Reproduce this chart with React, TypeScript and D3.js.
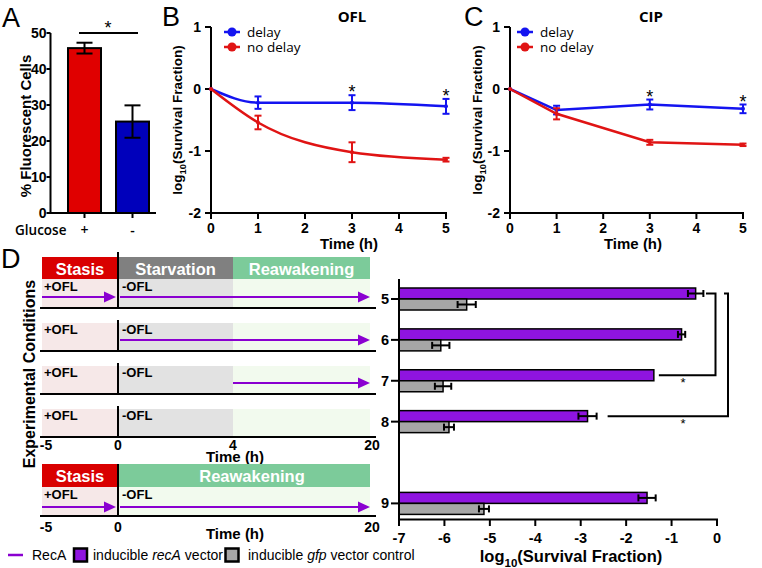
import React from "react";
import * as d3 from "d3";

// ---------- DATA ----------
const A_CATS = ["+", "-"];
const A_VALUES = [45.8, 25.4];
const A_ERRORS = [1.5, 4.5];
const A_TICKS = [0, 10, 20, 30, 40, 50];

const TIMES = [0, 1, 3, 5];
const TIME_TICKS = [0, 1, 2, 3, 4, 5];
const LOG_TICKS = [-2, -1, 0, 1];
const SERIES_NAMES = ["delay", "no delay"];
const OFL_DELAY = [0, -0.22, -0.22, -0.28];
const OFL_DELAY_ERR = [0, 0.1, 0.12, 0.12];
const OFL_NODELAY = [0, -0.54, -1.02, -1.14];
const OFL_NODELAY_ERR = [0, 0.11, 0.16, 0.03];
const CIP_DELAY = [0, -0.34, -0.25, -0.32];
const CIP_DELAY_ERR = [0, 0.07, 0.08, 0.07];
const CIP_NODELAY = [0, -0.4, -0.86, -0.9];
const CIP_NODELAY_ERR = [0, 0.09, 0.04, 0.02];
const STAR_TIMES = [3, 5];

const D_ROWS = ["5", "6", "7", "8", "9"];
const D_ROW_POS = [0, 1, 2, 3, 5];
const RECA_VALUES = [-0.47, -0.78, -1.39, -2.85, -1.54];
const RECA_ERR = [0.17, 0.08, 0, 0.2, 0.19];
const GFP_VALUES = [-5.51, -6.08, -6.03, -5.9, -5.13];
const GFP_ERR = [0.2, 0.19, 0.18, 0.11, 0.11];
const D_X_TICKS = [-7, -6, -5, -4, -3, -2, -1, 0];
const BRACKETS = [
  [0, 2],
  [0, 3],
];

const PHASES_TOP: [string, number, number][] = [
  ["Stasis", -5, 0],
  ["Starvation", 0, 4],
  ["Reawakening", 4, 20],
];
const PHASES_BOTTOM: [string, number, number][] = [
  ["Stasis", -5, 0],
  ["Reawakening", 0, 20],
];
const SCHEME_TICKS_TOP = [-5, 0, 4, 20];
const SCHEME_TICKS_BOTTOM = [-5, 0, 20];
const ROW_ARROWS_TOP: [number, number][][] = [
  [
    [-5, 0],
    [0, 20],
  ],
  [[0, 20]],
  [[4, 20]],
  [],
];
const ROW_ARROWS_BOTTOM: [number, number][][] = [
  [
    [-5, 0],
    [0, 20],
  ],
];
const TREATMENTS = ["+OFL", "-OFL"];

// ---------- STYLE ----------
const F = "'Liberation Sans', Arial, Helvetica, sans-serif";
const OS = "'Open Sans', 'Liberation Sans', sans-serif";
const BLUE = "#1414f0";
const RED = "#e01414";
const PURPLE = "#8f14e0";
const ARROW = "#8a00d0";
const GREY_BAR = "#a6a6a6";
const PHASE_DARK: Record<string, string> = {
  Stasis: "#d90000",
  Starvation: "#808080",
  Reawakening: "#7ccb9a",
};
const PHASE_LIGHT: Record<string, string> = {
  Stasis: "#f6e8e8",
  Starvation: "#e2e2e2",
  Reawakening: "#f2faee",
};

function Log10Label({ size }: { size: number }) {
  return (
    <>
      <tspan>log</tspan>
      <tspan dy={size * 0.3} fontSize={size * 0.7}>
        10
      </tspan>
      <tspan dy={-size * 0.3}>(Survival Fraction)</tspan>
    </>
  );
}

// rotated title whose visual centre (cap height) is at cx
function VTitle({ cx, cy, size, children }: { cx: number; cy: number; size: number; children: any }) {
  return (
    <text transform={`translate(${cx + size * 0.36},${cy}) rotate(-90)`} textAnchor="middle" fontSize={size} fontWeight="bold">
      {children}
    </text>
  );
}

function PanelA() {
  const x = d3.scalePoint<string>().domain(A_CATS).range([84.5, 132.5]);
  const y = d3.scaleLinear().domain([0, 50]).range([213, 33]);
  const bw = 33;
  const ax = 50.5;
  const colors = ["#e00000", "#0000bb"];
  return (
    <g>
      <text x={2} y={27} fontSize={27}>
        A
      </text>
      {A_VALUES.map((v, i) => {
        const cx = x(A_CATS[i])!;
        return (
          <g key={i}>
            <rect x={cx - bw / 2} y={y(v)} width={bw} height={y(0) - y(v)} fill={colors[i]} stroke="#000" strokeWidth={2} />
            <line x1={cx} x2={cx} y1={y(v - A_ERRORS[i])} y2={y(v + A_ERRORS[i])} stroke="#000" strokeWidth={2} />
            <line x1={cx - 8} x2={cx + 8} y1={y(v - A_ERRORS[i])} y2={y(v - A_ERRORS[i])} stroke="#000" strokeWidth={2} />
            <line x1={cx - 8} x2={cx + 8} y1={y(v + A_ERRORS[i])} y2={y(v + A_ERRORS[i])} stroke="#000" strokeWidth={2} />
            <line x1={cx} x2={cx} y1={y(0)} y2={y(0) + 5} stroke="#000" strokeWidth={2} />
            <text x={cx} y={235} textAnchor="middle" fontSize={14} fontFamily={OS} fontWeight={600}>
              {A_CATS[i]}
            </text>
          </g>
        );
      })}
      <line x1={ax} x2={ax} y1={y(50)} y2={y(0) + 1} stroke="#000" strokeWidth={2} />
      <line x1={ax - 1} x2={156} y1={y(0)} y2={y(0)} stroke="#000" strokeWidth={2} />
      {A_TICKS.map((t) => (
        <g key={t}>
          <line x1={ax - 4} x2={ax} y1={y(t)} y2={y(t)} stroke="#000" strokeWidth={2} />
          <text x={46.5} y={y(t) + 5} textAnchor="end" fontSize={14} fontWeight="bold">
            {t}
          </text>
        </g>
      ))}
      <text x={15} y={235} fontSize={13.5} fontFamily={OS} fontWeight={600}>
        Glucose
      </text>
      <line x1={79} x2={138} y1={y(50)} y2={y(50)} stroke="#000" strokeWidth={2} />
      <text x={108} y={y(50) + 1} textAnchor="middle" fontSize={18}>
        *
      </text>
      <VTitle cx={26} cy={126} size={15}>
        % Fluorescent Cells
      </VTitle>
    </g>
  );
}

function LinePanel(props: {
  xr: [number, number];
  letter: string;
  letterX: number;
  title: string;
  titleX: number;
  delay: number[];
  delayErr: number[];
  noDelay: number[];
  noDelayErr: number[];
  curve: any;
  legendX: number;
  yTitleX: number;
  xTitleX: number;
}) {
  const { xr } = props;
  const x = d3.scaleLinear().domain([0, 5]).range(xr);
  const y = d3.scaleLinear().domain([-2, 1]).range([213, 27]);
  const line = d3
    .line<number>()
    .x((_, i) => x(TIMES[i]))
    .y((d) => y(d))
    .curve(props.curve);
  const series = [
    { vals: props.delay, err: props.delayErr, color: BLUE },
    { vals: props.noDelay, err: props.noDelayErr, color: RED },
  ];
  return (
    <g>
      <text x={props.letterX} y={26} fontSize={27}>
        {props.letter}
      </text>
      <text x={props.titleX} y={22} textAnchor="middle" fontSize={15} fontWeight={700} fontFamily={OS}>
        {props.title}
      </text>
      {/* axes */}
      <line x1={xr[0]} x2={xr[0]} y1={y(1)} y2={y(-2) + 1} stroke="#000" strokeWidth={2} />
      <line x1={xr[0] - 1} x2={xr[1] + 1} y1={y(-2)} y2={y(-2)} stroke="#000" strokeWidth={2} />
      {LOG_TICKS.map((t) => (
        <g key={t}>
          <line x1={xr[0] - 6} x2={xr[0]} y1={y(t)} y2={y(t)} stroke="#000" strokeWidth={2} />
          <text x={xr[0] - 10} y={y(t) + 5} textAnchor="end" fontSize={14} fontWeight="bold">
            {t}
          </text>
        </g>
      ))}
      {TIME_TICKS.map((t) => (
        <g key={t}>
          <line x1={x(t)} x2={x(t)} y1={y(-2)} y2={y(-2) + 6} stroke="#000" strokeWidth={2} />
          <text x={x(t)} y={233} textAnchor="middle" fontSize={14} fontWeight="bold">
            {t}
          </text>
        </g>
      ))}
      <text x={props.xTitleX} y={249} textAnchor="middle" fontSize={15} fontWeight="bold">
        Time (h)
      </text>
      <VTitle cx={props.yTitleX} cy={120} size={13.5}>
        <Log10Label size={13.5} />
      </VTitle>
      {/* series */}
      {series.map((s, si) => (
        <g key={si}>
          <path d={line(s.vals)!} fill="none" stroke={s.color} strokeWidth={2.5} />
          {s.vals.map((v, i) =>
            s.err[i] > 0 ? (
              <g key={i} stroke={s.color} strokeWidth={2}>
                <line x1={x(TIMES[i])} x2={x(TIMES[i])} y1={y(v - s.err[i])} y2={y(v + s.err[i])} />
                <line x1={x(TIMES[i]) - 3.5} x2={x(TIMES[i]) + 3.5} y1={y(v - s.err[i])} y2={y(v - s.err[i])} />
                <line x1={x(TIMES[i]) - 3.5} x2={x(TIMES[i]) + 3.5} y1={y(v + s.err[i])} y2={y(v + s.err[i])} />
              </g>
            ) : null
          )}
          {s.vals.map((v, i) => (
            <circle key={"c" + i} cx={x(TIMES[i])} cy={y(v)} r={2} fill={s.color} />
          ))}
        </g>
      ))}
      {STAR_TIMES.map((t) => {
        const i = TIMES.indexOf(t);
        const top = y(props.delay[i] + props.delayErr[i]);
        return (
          <text key={t} x={x(t)} y={top + 3} textAnchor="middle" fontSize={18}>
            *
          </text>
        );
      })}
      {/* legend */}
      {SERIES_NAMES.map((n, i) => (
        <g key={n}>
          <line x1={props.legendX - 8} x2={props.legendX + 8} y1={32 + i * 15} y2={32 + i * 15} stroke={series[i].color} strokeWidth={2.5} />
          <circle cx={props.legendX} cy={32 + i * 15} r={4.5} fill={series[i].color} />
          <text x={props.legendX + 15} y={36.5 + i * 15} fontSize={13.5} fontFamily={OS}>
            {n}
          </text>
        </g>
      ))}
    </g>
  );
}

function Arrow({ x1, x2, y }: { x1: number; x2: number; y: number }) {
  return (
    <g>
      <line x1={x1} x2={x2 - 10} y1={y} y2={y} stroke={ARROW} strokeWidth={2} />
      <path d={`M${x2},${y} L${x2 - 12},${y - 5.5} L${x2 - 12},${y + 5.5} Z`} fill={ARROW} />
    </g>
  );
}

function Schematic() {
  const tx = d3.scaleLinear().domain(SCHEME_TICKS_TOP).range([42, 118, 233, 370]);
  const tx2 = d3.scaleLinear().domain(SCHEME_TICKS_BOTTOM).range([42, 118, 370]);
  const rowTop = (i: number) => 280 + i * 43;
  const rowH = 28;
  return (
    <g>
      <text x={1} y={268} fontSize={27}>
        D
      </text>
      {/* top header */}
      {PHASES_TOP.map(([n, a, b]) => (
        <g key={n}>
          <rect x={tx(a)} y={257} width={tx(b) - tx(a)} height={22} fill={PHASE_DARK[n]} />
          <text x={(tx(a) + tx(b)) / 2} y={275} textAnchor="middle" fill="#fff" fontSize={16.5} fontWeight="bold">
            {n}
          </text>
        </g>
      ))}
      {ROW_ARROWS_TOP.map((arrows, i) => {
        const top = rowTop(i);
        return (
          <g key={i}>
            {PHASES_TOP.map(([n, a, b]) => (
              <rect key={n} x={tx(a)} y={i === 0 ? 279 : top} width={tx(b) - tx(a)} height={top + rowH - (i === 0 ? 279 : top)} fill={PHASE_LIGHT[n]} />
            ))}
            <line x1={40} x2={376} y1={top + rowH} y2={top + rowH} stroke="#000" strokeWidth={2} />
            <line x1={tx(0)} x2={tx(0)} y1={i === 0 ? 252 : top - 3} y2={top + rowH} stroke="#000" strokeWidth={2} />
            <text x={tx(-5) + 2} y={top + 11} fontSize={13} fontWeight="bold">
              {TREATMENTS[0]}
            </text>
            <text x={tx(0) + 4} y={top + 11} fontSize={13} fontWeight="bold">
              {TREATMENTS[1]}
            </text>
            {arrows.map(([a, b], k) => (
              <Arrow key={k} x1={tx(a) + (a === 0 ? 2 : 0)} x2={tx(b) - (b === 0 ? 2 : 0)} y={top + 17} />
            ))}
          </g>
        );
      })}
      {SCHEME_TICKS_TOP.map((t) => (
        <text key={t} x={tx(t) + (t < 0 ? 4 : t > 4 ? 2 : 0)} y={450} textAnchor="middle" fontSize={14} fontWeight="bold">
          {t}
        </text>
      ))}
      <text x={235} y={462} textAnchor="middle" fontSize={15} fontWeight="bold">
        Time (h)
      </text>

      {/* bottom schematic */}
      {PHASES_BOTTOM.map(([n, a, b]) => (
        <g key={n}>
          <rect x={tx2(a)} y={464} width={tx2(b) - tx2(a)} height={23} fill={PHASE_DARK[n]} />
          <text x={(tx2(a) + tx2(b)) / 2 + (a === 0 ? 8 : 0)} y={482} textAnchor="middle" fill="#fff" fontSize={16.5} fontWeight="bold">
            {n}
          </text>
          <rect x={tx2(a)} y={487} width={tx2(b) - tx2(a)} height={28} fill={PHASE_LIGHT[n]} />
        </g>
      ))}
      <line x1={40} x2={376} y1={516} y2={516} stroke="#000" strokeWidth={2} />
      <line x1={tx2(0)} x2={tx2(0)} y1={464} y2={516} stroke="#000" strokeWidth={2} />
      <text x={tx2(-5) + 2} y={499} fontSize={13} fontWeight="bold">
        {TREATMENTS[0]}
      </text>
      <text x={tx2(0) + 4} y={499} fontSize={13} fontWeight="bold">
        {TREATMENTS[1]}
      </text>
      {ROW_ARROWS_BOTTOM[0].map(([a, b], k) => (
        <Arrow key={k} x1={tx2(a) + (a === 0 ? 2 : 0)} x2={tx2(b) - (b === 0 ? 2 : 0)} y={507} />
      ))}
      {SCHEME_TICKS_BOTTOM.map((t) => (
        <text key={t} x={tx2(t) + (t < 0 ? 4 : t > 4 ? 2 : 0)} y={532} textAnchor="middle" fontSize={14} fontWeight="bold">
          {t}
        </text>
      ))}
      <text x={235} y={539} textAnchor="middle" fontSize={15} fontWeight="bold">
        Time (h)
      </text>

      <VTitle cx={29} cy={374} size={16}>
        Experimental Conditions
      </VTitle>
    </g>
  );
}

function PanelDRight() {
  const x = d3.scaleLinear().domain([-7, 0]).range([399, 717]);
  const y = d3.scaleLinear().domain([0, 5]).range([299, 503.4]);
  const bh = 11;
  const bracketX = [715.5, 728];
  const bracketTopStart = [706, 724];
  const bracketGap = [5, 11];
  return (
    <g>
      {D_ROWS.map((r, i) => {
        const cy = y(D_ROW_POS[i]);
        const rv = RECA_VALUES[i];
        const gv = GFP_VALUES[i];
        return (
          <g key={r}>
            <rect x={x(-7)} y={cy - bh} width={x(rv) - x(-7)} height={bh} fill={PURPLE} stroke="#000" strokeWidth={1.5} />
            <rect x={x(-7)} y={cy} width={x(gv) - x(-7)} height={bh} fill={GREY_BAR} stroke="#000" strokeWidth={1.5} />
            {RECA_ERR[i] > 0 && (
              <g stroke="#000" strokeWidth={2}>
                <line x1={x(rv - RECA_ERR[i])} x2={x(rv + RECA_ERR[i])} y1={cy - bh / 2} y2={cy - bh / 2} />
                <line x1={x(rv - RECA_ERR[i])} x2={x(rv - RECA_ERR[i])} y1={cy - bh / 2 - 3.5} y2={cy - bh / 2 + 3.5} />
                <line x1={x(rv + RECA_ERR[i])} x2={x(rv + RECA_ERR[i])} y1={cy - bh / 2 - 3.5} y2={cy - bh / 2 + 3.5} />
              </g>
            )}
            <g stroke="#000" strokeWidth={2}>
              <line x1={x(gv - GFP_ERR[i])} x2={x(gv + GFP_ERR[i])} y1={cy + bh / 2} y2={cy + bh / 2} />
              <line x1={x(gv - GFP_ERR[i])} x2={x(gv - GFP_ERR[i])} y1={cy + bh / 2 - 3.5} y2={cy + bh / 2 + 3.5} />
              <line x1={x(gv + GFP_ERR[i])} x2={x(gv + GFP_ERR[i])} y1={cy + bh / 2 - 3.5} y2={cy + bh / 2 + 3.5} />
            </g>
            <line x1={391} x2={399} y1={cy} y2={cy} stroke="#000" strokeWidth={2} />
            <text x={389} y={cy + 5} textAnchor="end" fontSize={14.5} fontWeight="bold">
              {r}
            </text>
          </g>
        );
      })}
      <line x1={399} x2={399} y1={279} y2={520} stroke="#000" strokeWidth={2} />
      <line x1={398} x2={718} y1={519.5} y2={519.5} stroke="#000" strokeWidth={2} />
      {D_X_TICKS.map((t) => (
        <g key={t}>
          <line x1={x(t)} x2={x(t)} y1={519.5} y2={526} stroke="#000" strokeWidth={2} />
          <text x={x(t)} y={543} textAnchor="middle" fontSize={14.5} fontWeight="bold">
            {t}
          </text>
        </g>
      ))}
      <text x={571} y={562} textAnchor="middle" fontSize={16.5} fontWeight="bold">
        <Log10Label size={16.5} />
      </text>
      {BRACKETS.map(([a, b], k) => {
        const ya = y(D_ROW_POS[a]) - bh / 2;
        const yb = y(D_ROW_POS[b]) - bh / 2;
        const xEnd = x(RECA_VALUES[b] + RECA_ERR[b]) + bracketGap[k];
        return (
          <g key={k}>
            <path d={`M${bracketTopStart[k]},${ya} H${bracketX[k]} V${yb} H${xEnd}`} fill="none" stroke="#000" strokeWidth={2} />
            <text x={x(-0.75)} y={yb + 12} textAnchor="middle" fontSize={13}>
              *
            </text>
          </g>
        );
      })}
    </g>
  );
}

function Legend() {
  return (
    <g fontSize={14}>
      <line x1={8} x2={23} y1={555} y2={555} stroke={ARROW} strokeWidth={2.5} />
      <text x={32} y={560}>RecA</text>
      <rect x={74} y={548.5} width={13} height={13} fill={PURPLE} stroke="#000" strokeWidth={2.5} />
      <text x={93} y={560}>
        inducible <tspan fontStyle="italic">recA</tspan> vector
      </text>
      <rect x={225.5} y={548.5} width={13} height={13} fill={GREY_BAR} stroke="#000" strokeWidth={2.5} />
      <text x={248} y={560}>
        inducible <tspan fontStyle="italic">gfp</tspan> vector control
      </text>
    </g>
  );
}

export default function App() {
  return (
    <svg width={762} height={568} style={{ position: "absolute", left: 0, top: 0, background: "#fff" }} fontFamily={F}>
      <rect width={762} height={568} fill="#fff" />
      <PanelA />
      <LinePanel
        xr={[211, 446]}
        letter="B"
        letterX={162}
        title="OFL"
        titleX={352}
        delay={OFL_DELAY}
        delayErr={OFL_DELAY_ERR}
        noDelay={OFL_NODELAY}
        noDelayErr={OFL_NODELAY_ERR}
        curve={d3.curveMonotoneX}
        legendX={232}
        yTitleX={177}
        xTitleX={349}
      />
      <LinePanel
        xr={[510, 743]}
        letter="C"
        letterX={464}
        title="CIP"
        titleX={651}
        delay={CIP_DELAY}
        delayErr={CIP_DELAY_ERR}
        noDelay={CIP_NODELAY}
        noDelayErr={CIP_NODELAY_ERR}
        curve={d3.curveLinear}
        legendX={525}
        yTitleX={477}
        xTitleX={633}
      />
      <Schematic />
      <PanelDRight />
      <Legend />
    </svg>
  );
}
